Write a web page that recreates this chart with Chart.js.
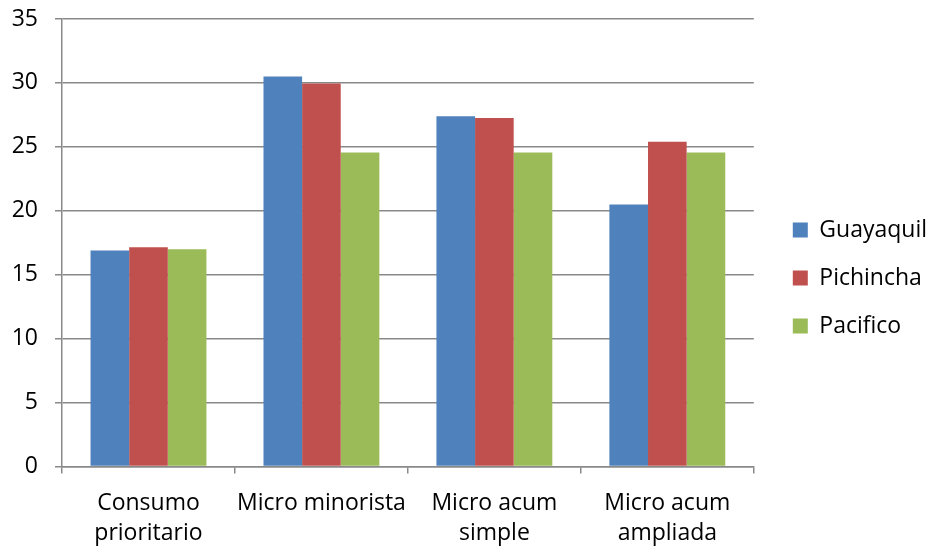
<!DOCTYPE html>
<html>
<head>
<meta charset="utf-8">
<script src="https://cdn.jsdelivr.net/npm/chart.js@4.4.1/dist/chart.umd.min.js"></script>
<style>
  html, body { margin: 0; padding: 0; background: #ffffff; }
  #wrap { width: 932px; height: 549px; position: relative; }
</style>
</head>
<body>
<div id="wrap"><canvas id="c"></canvas></div>
<script>
const categories = [
  ["Consumo", "prioritario"],
  ["Micro minorista"],
  ["Micro acum", "simple"],
  ["Micro acum", "ampliada"]
];
const seriesNames = ["Guayaquil", "Pichincha", "Pacifico"];
const guayaquil = [16.9, 30.5, 27.4, 20.5];
const pichincha = [17.15, 29.95, 27.25, 25.4];
const pacifico = [17.0, 24.55, 24.55, 24.55];
const seriesColors = ["#4F81BD", "#C0504D", "#9BBB59"];
const yMin = 0, yMax = 35, yStep = 5;

const FONT = "'Open Sans', 'DejaVu Sans', sans-serif";
const GRID = "#898989";

function build() {
  Chart.defaults.font.family = FONT;
  Chart.defaults.color = "#000000";
  const values = [guayaquil, pichincha, pacifico];
  new Chart(document.getElementById("c"), {
    type: "bar",
    data: {
      labels: categories,
      datasets: seriesNames.map((n, i) => ({
        label: n,
        data: values[i],
        backgroundColor: seriesColors[i],
        borderWidth: 0,
        categoryPercentage: 0.67,
        barPercentage: 1.0
      }))
    },
    options: {
      responsive: true,
      maintainAspectRatio: false,
      animation: false,
      devicePixelRatio: 1,
      layout: { padding: { top: 7, left: 0, right: -5, bottom: 0 } },
      plugins: {
        tooltip: { enabled: false },
        legend: {
          position: "right",
          maxWidth: 300,
          labels: {
            boxWidth: 15,
            boxHeight: 15,
            padding: 25,
            color: "#000000",
            font: { size: 23, family: FONT }
          }
        }
      },
      scales: {
        x: {
          grid: {
            display: true,
            drawOnChartArea: false,
            drawTicks: true,
            offset: true,
            tickLength: 7,
            color: GRID,
            lineWidth: 1.5
          },
          border: { display: true, color: GRID, width: 1.5 },
          ticks: {
            color: "#000000",
            padding: 15,
            maxRotation: 0,
            autoSkip: false,
            font: { size: 23, family: FONT, lineHeight: 1.3 }
          },
          afterFit(s) { s.height = 549 - 466.5; s.paddingLeft = 0; s.paddingRight = 0; }
        },
        y: {
          min: yMin,
          max: yMax,
          ticks: {
            stepSize: yStep,
            color: "#000000",
            padding: 17,
            font: { size: 23, family: FONT }
          },
          grid: {
            color: GRID,
            lineWidth: 1.5,
            tickLength: 7,
            drawTicks: true
          },
          border: { display: true, color: GRID, width: 1.5 },
          afterFit(s) { s.width = 62; s.paddingTop = 19; s.paddingBottom = 0; }
        },
        spacer: {
          type: "linear",
          position: "right",
          display: true,
          grid: { display: false, drawTicks: false },
          border: { display: false },
          ticks: { display: false },
          afterFit(s) { s.width = 14; s.paddingTop = 0; s.paddingBottom = 0; }
        }
      }
    }
  });
}

if (document.fonts && document.fonts.load) {
  Promise.all([
    document.fonts.load("23px 'Open Sans'")
  ]).then(build, build);
} else {
  build();
}
</script>
</body>
</html>
